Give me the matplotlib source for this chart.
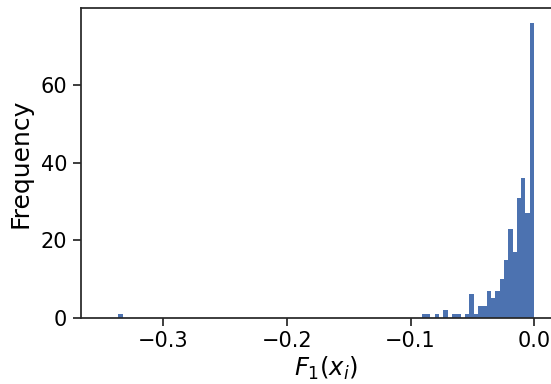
import numpy as np
import matplotlib
matplotlib.use("Agg")
import matplotlib.pyplot as plt

# Histogram data
x_min = -0.3363
x_max = 0.0
n_bins = 96
# counts of the rightmost bins, listed from right (near 0) to left
counts_from_right = [76, 27, 36, 31, 17, 23, 15, 10, 7, 5, 7, 3, 3, 1, 6, 1, 0,
                     1, 1, 0, 2, 0, 1, 0, 1, 1]
leftmost_count = 1

counts = np.zeros(n_bins)
counts[n_bins - len(counts_from_right):] = counts_from_right[::-1]
counts[0] = leftmost_count
edges = np.linspace(x_min, x_max, n_bins + 1)
centers = 0.5 * (edges[:-1] + edges[1:])

fig = plt.figure(figsize=(5.51, 3.84), dpi=100)
ax = fig.add_axes([0.1461, 0.1727, 0.892, 0.8052])
ax.hist(centers, bins=edges, weights=counts, color="#4c72b0", edgecolor="none")
ax.set_xlim(-0.3669, 0.0306)
ax.set_ylim(0, 79.8)
ax.set_xticks([-0.3, -0.2, -0.1, 0.0])
ax.set_yticks([0, 20, 40, 60])
ax.set_xlabel(r"$F_1(x_i)$", fontsize=17.5, labelpad=3)
ax.set_ylabel("Frequency", fontsize=18, labelpad=6)
ax.tick_params(labelsize=15, length=6, width=1.25, color="#262626")
for s in ax.spines.values():
    s.set_linewidth(1.25)
    s.set_color("#262626")

fig.savefig("out.png", dpi=100)
